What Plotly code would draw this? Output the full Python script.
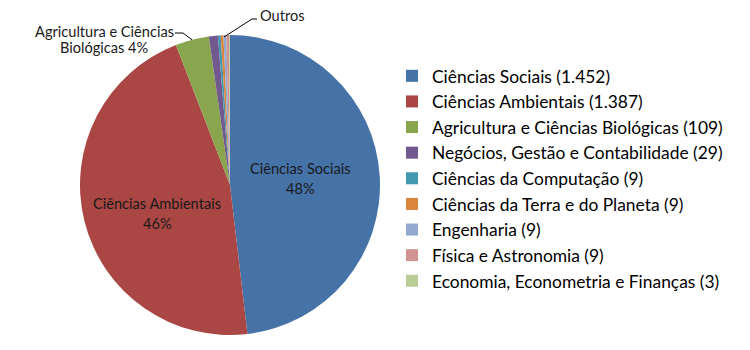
import math
import plotly.graph_objects as go

categories = [
    "Ciências Sociais",
    "Ciências Ambientais",
    "Agricultura e Ciências Biológicas",
    "Negócios, Gestão e Contabilidade",
    "Ciências da Computação",
    "Ciências da Terra e do Planeta",
    "Engenharia",
    "Física e Astronomia",
    "Economia, Econometria e Finanças",
]
counts = [1452, 1387, 109, 29, 9, 9, 9, 9, 3]
count_labels = ["1.452", "1.387", "109", "29", "9", "9", "9", "9", "3"]
colors = ["#4572A7", "#AA4643", "#89A54E", "#71588F", "#4198AF",
          "#DB843D", "#93A9CF", "#D19392", "#B9CD96"]

FONT = "Lato"
W, H = 750, 350
legend_names = [f"{c} ({n})" for c, n in zip(categories, count_labels)]

# pie geometry in pixels
cx, cy, r = 230, 185, 150
dom_x = [(cx - r) / W, (cx + r) / W]
dom_y = [(H - cy - r) / H, (H - cy + r) / H]

fig = go.Figure(go.Pie(
    labels=legend_names,
    values=counts,
    marker=dict(colors=colors, line=dict(width=0)),
    sort=False,
    direction="clockwise",
    rotation=0,
    textinfo="none",
    hoverinfo="label+percent",
    domain=dict(x=dom_x, y=dom_y),
))

total = sum(counts)
def px2paper(x, y):
    return x / W, (H - y) / H

def edge_point(start, size):
    frac = (start + size / 2) / total
    th = 2 * math.pi * frac
    return cx + r * math.sin(th), cy - r * math.cos(th)

cum = [sum(counts[:i]) for i in range(len(counts))]
pct = [round(100 * v / total) for v in counts]

annotations = []
shapes = []
lbl_font = dict(family=FONT, size=14.6, color="#1a1a1a")

def add_text(x, y, text, xanchor="center"):
    p = px2paper(x, y)
    annotations.append(dict(x=p[0], y=p[1], xref="paper", yref="paper",
                            showarrow=False, text=text, font=lbl_font,
                            xanchor=xanchor, yanchor="middle", align="center"))

# inside labels
add_text(300, 168, categories[0])
add_text(300, 188, f"{pct[0]}%")
add_text(157, 203, categories[1])
add_text(157, 223, f"{pct[1]}%")

# Agricultura outside label with leader
ex, ey = edge_point(cum[2], counts[2])
add_text(104, 32, "Agricultura e Ciências")
add_text(104, 48, f"Biológicas {pct[2]}%")
for (x0, y0, x1, y1) in [(175, 33, 183, 33), (183, 33, ex, ey)]:
    a = px2paper(x0, y0); b = px2paper(x1, y1)
    shapes.append(dict(type="line", xref="paper", yref="paper",
                       x0=a[0], y0=a[1], x1=b[0], y1=b[1],
                       line=dict(color="#000000", width=1)))

# Outros label with leader
ox, oy = 224, 37
add_text(258, 16, "Outros", xanchor="left")
for (x0, y0, x1, y1) in [(257, 19, 252, 19), (252, 19, ox, oy)]:
    a = px2paper(x0, y0); b = px2paper(x1, y1)
    shapes.append(dict(type="line", xref="paper", yref="paper",
                       x0=a[0], y0=a[1], x1=b[0], y1=b[1],
                       line=dict(color="#000000", width=1)))

fig.update_layout(
    width=W, height=H,
    margin=dict(l=0, r=0, t=0, b=0),
    paper_bgcolor="white",
    plot_bgcolor="white",
    font=dict(family=FONT, color="#000000"),
    showlegend=True,
    legend=dict(x=px2paper(392, 0)[0], xanchor="left",
                y=px2paper(0, 178.5)[1], yanchor="middle",
                font=dict(family=FONT, size=17.4, color="#000000"),
                bgcolor="rgba(0,0,0,0)", borderwidth=0),
    annotations=annotations,
    shapes=shapes,
)

fig.write_html("out.html")
